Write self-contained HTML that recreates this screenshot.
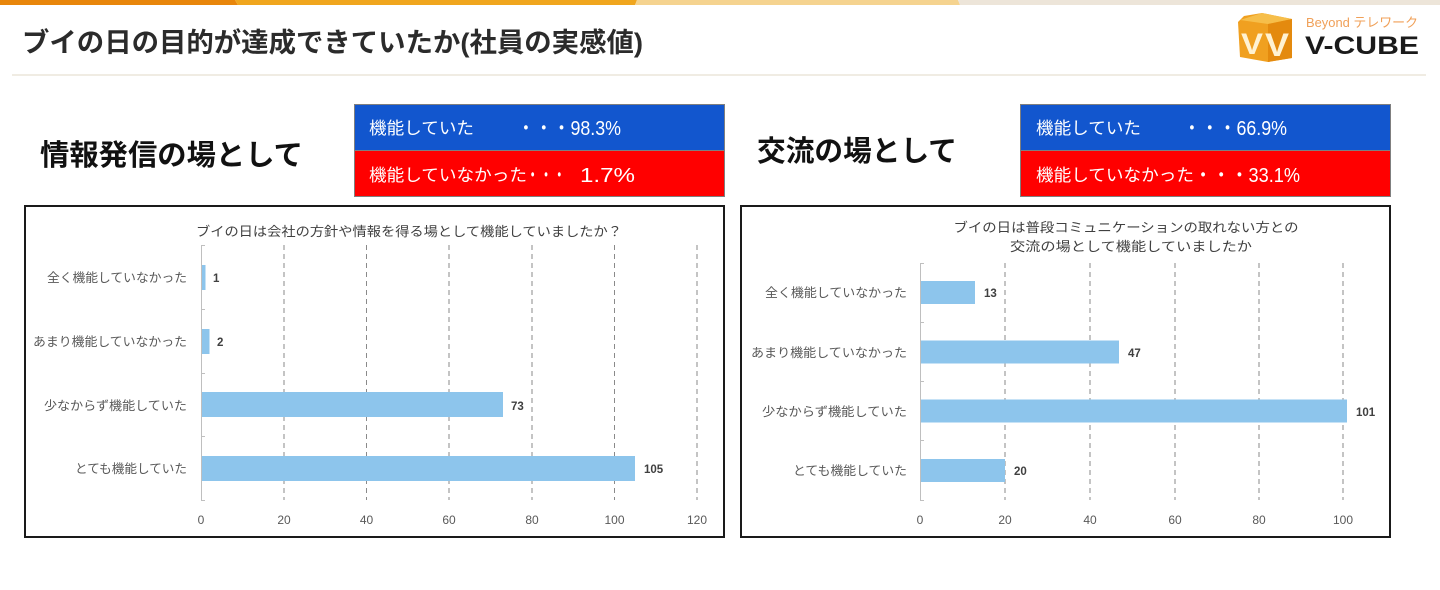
<!DOCTYPE html>
<html><head><meta charset="utf-8">
<style>
html,body{margin:0;padding:0;background:#fff;}
svg{display:block;}
text{font-family:"Liberation Sans","Noto Sans CJK JP",sans-serif;}
</style></head>
<body>
<svg width="1440" height="590" viewBox="0 0 1440 590" xmlns="http://www.w3.org/2000/svg">
<!-- top strip -->
<polygon points="0,0 235,0 238,5 0,5" fill="#E8860B"/>
<polygon points="235,0 637,0 635,5 238,5" fill="#F0A61E"/>
<polygon points="637,0 958,0 960,5 635,5" fill="#F5D38F"/>
<polygon points="958,0 1440,0 1440,5 960,5" fill="#EDE5D9"/>

<!-- title -->
<text x="22" y="52" font-size="27" font-weight="bold" fill="#2b2b2b" textLength="621" lengthAdjust="spacingAndGlyphs">ブイの日の目的が達成できていたか(社員の実感値)</text>
<line x1="12" y1="75" x2="1426" y2="75" stroke="#ECE6DA" stroke-width="1.5"/>

<!-- logo -->
<polygon points="1244,16 1262,13 1292,19 1292,58 1268,62 1240,57 1238,22" fill="#F0A020"/>
<polygon points="1262,13 1292,19 1268,24 1240,20" fill="#F6BE4A"/>
<polygon points="1268,24 1292,19 1292,58 1268,62" fill="#E48A0E"/>
<text x="1241" y="54" font-size="30" fill="#FFF2D2" font-weight="bold" textLength="22" lengthAdjust="spacingAndGlyphs">V</text>
<text x="1265" y="56" font-size="32" fill="#FFF2D2" font-weight="bold" textLength="24" lengthAdjust="spacingAndGlyphs">V</text>
<text x="1306" y="27" font-size="13" fill="#F0A058" textLength="112" lengthAdjust="spacingAndGlyphs">Beyond テレワーク</text>
<text x="1305" y="54" font-size="25" font-weight="bold" fill="#1a1a1a" textLength="114" lengthAdjust="spacingAndGlyphs">V-CUBE</text>

<!-- left heading -->
<text x="40" y="165" font-size="29" font-weight="bold" fill="#111" textLength="263" lengthAdjust="spacingAndGlyphs">情報発信の場として</text>
<!-- left summary box -->
<rect x="354.5" y="104.5" width="370" height="46" fill="#1256CE" stroke="#7f7f7f" stroke-width="1"/>
<rect x="354.5" y="150.5" width="370" height="46" fill="#FF0000" stroke="#7f7f7f" stroke-width="1"/>
<text x="369" y="134" font-size="17" fill="#fff" textLength="105" lengthAdjust="spacingAndGlyphs">機能していた</text>
<text x="517" y="135" font-size="20" fill="#fff" textLength="104" lengthAdjust="spacingAndGlyphs">・・・98.3%</text>
<text x="369" y="181" font-size="17" fill="#fff" textLength="158" lengthAdjust="spacingAndGlyphs">機能していなかった</text>
<text x="526" y="182" font-size="20" fill="#fff" textLength="40" lengthAdjust="spacingAndGlyphs">・・・</text>
<text x="580" y="182" font-size="20" fill="#fff" textLength="55" lengthAdjust="spacingAndGlyphs">1.7%</text>

<!-- right heading -->
<text x="757" y="161" font-size="29" font-weight="bold" fill="#111" textLength="200" lengthAdjust="spacingAndGlyphs">交流の場として</text>
<rect x="1020.5" y="104.5" width="370" height="46" fill="#1256CE" stroke="#7f7f7f" stroke-width="1"/>
<rect x="1020.5" y="150.5" width="370" height="46" fill="#FF0000" stroke="#7f7f7f" stroke-width="1"/>
<text x="1036" y="134" font-size="17" fill="#fff" textLength="105" lengthAdjust="spacingAndGlyphs">機能していた</text>
<text x="1183" y="135" font-size="20" fill="#fff" textLength="104" lengthAdjust="spacingAndGlyphs">・・・66.9%</text>
<text x="1036" y="181" font-size="17" fill="#fff" textLength="158" lengthAdjust="spacingAndGlyphs">機能していなかった</text>
<text x="1194" y="182" font-size="20" fill="#fff" textLength="106" lengthAdjust="spacingAndGlyphs">・・・33.1%</text>

<!-- LEFT CHART -->
<rect x="25" y="206" width="699" height="331" fill="#fff" stroke="#1a1a1a" stroke-width="2"/>
<text x="196" y="236" font-size="13" fill="#404040" textLength="426" lengthAdjust="spacingAndGlyphs">ブイの日は会社の方針や情報を得る場として機能していましたか？</text>
<g stroke="#8a8a8a" stroke-width="1" stroke-dasharray="5,4">
<line x1="284" y1="245" x2="284" y2="500"/>
<line x1="366.5" y1="245" x2="366.5" y2="500"/>
<line x1="449" y1="245" x2="449" y2="500"/>
<line x1="532" y1="245" x2="532" y2="500"/>
<line x1="614.5" y1="245" x2="614.5" y2="500"/>
<line x1="697" y1="245" x2="697" y2="500"/>
</g>
<g fill="#8DC5EC">
<rect x="201" y="265" width="4.5" height="25"/>
<rect x="201" y="329" width="8.5" height="25"/>
<rect x="201" y="392" width="302" height="25"/>
<rect x="201" y="456" width="434" height="25"/>
</g>
<g stroke="#bfbfbf" stroke-width="1">
<line x1="201.5" y1="245" x2="201.5" y2="500"/>
<line x1="201" y1="245.5" x2="205" y2="245.5"/>
<line x1="201" y1="309.5" x2="205" y2="309.5"/>
<line x1="201" y1="373.5" x2="205" y2="373.5"/>
<line x1="201" y1="436.5" x2="205" y2="436.5"/>
<line x1="201" y1="500.5" x2="205" y2="500.5"/>
</g>
<g font-size="12.5" fill="#595959" text-anchor="end">
<text x="187" y="282" textLength="140" lengthAdjust="spacingAndGlyphs">全く機能していなかった</text>
<text x="187" y="346" textLength="154" lengthAdjust="spacingAndGlyphs">あまり機能していなかった</text>
<text x="187" y="410" textLength="143" lengthAdjust="spacingAndGlyphs">少なからず機能していた</text>
<text x="187" y="473" textLength="112" lengthAdjust="spacingAndGlyphs">とても機能していた</text>
</g>
<g font-size="11.5" fill="#404040" font-weight="bold">
<text x="213" y="282">1</text>
<text x="217" y="346">2</text>
<text x="511" y="410">73</text>
<text x="644" y="473">105</text>
</g>
<g font-size="12" fill="#595959" text-anchor="middle">
<text x="201" y="524">0</text>
<text x="284" y="524">20</text>
<text x="366.5" y="524">40</text>
<text x="449" y="524">60</text>
<text x="532" y="524">80</text>
<text x="614.5" y="524">100</text>
<text x="697" y="524">120</text>
</g>

<!-- RIGHT CHART -->
<rect x="741" y="206" width="649" height="331" fill="#fff" stroke="#1a1a1a" stroke-width="2"/>
<text x="1126" y="232" font-size="13" fill="#404040" text-anchor="middle" textLength="345" lengthAdjust="spacingAndGlyphs">ブイの日は普段コミュニケーションの取れない方との</text>
<text x="1131" y="251" font-size="13" fill="#404040" text-anchor="middle" textLength="242" lengthAdjust="spacingAndGlyphs">交流の場として機能していましたか</text>
<g stroke="#8a8a8a" stroke-width="1" stroke-dasharray="5,4">
<line x1="1005" y1="263" x2="1005" y2="500"/>
<line x1="1090" y1="263" x2="1090" y2="500"/>
<line x1="1175" y1="263" x2="1175" y2="500"/>
<line x1="1259" y1="263" x2="1259" y2="500"/>
<line x1="1343" y1="263" x2="1343" y2="500"/>
</g>
<g fill="#8DC5EC">
<rect x="920" y="281" width="55" height="23"/>
<rect x="920" y="340.5" width="199" height="23"/>
<rect x="920" y="399.5" width="427" height="23"/>
<rect x="920" y="459" width="85" height="23"/>
</g>
<g stroke="#bfbfbf" stroke-width="1">
<line x1="920.5" y1="263" x2="920.5" y2="500"/>
<line x1="920" y1="263.5" x2="924" y2="263.5"/>
<line x1="920" y1="322.5" x2="924" y2="322.5"/>
<line x1="920" y1="381.5" x2="924" y2="381.5"/>
<line x1="920" y1="440.5" x2="924" y2="440.5"/>
<line x1="920" y1="500.5" x2="924" y2="500.5"/>
</g>
<g font-size="12.5" fill="#595959" text-anchor="end">
<text x="907" y="297" textLength="142" lengthAdjust="spacingAndGlyphs">全く機能していなかった</text>
<text x="907" y="357" textLength="156" lengthAdjust="spacingAndGlyphs">あまり機能していなかった</text>
<text x="907" y="416" textLength="145" lengthAdjust="spacingAndGlyphs">少なからず機能していた</text>
<text x="907" y="475" textLength="114" lengthAdjust="spacingAndGlyphs">とても機能していた</text>
</g>
<g font-size="11.5" fill="#404040" font-weight="bold">
<text x="984" y="297">13</text>
<text x="1128" y="357">47</text>
<text x="1356" y="416">101</text>
<text x="1014" y="475">20</text>
</g>
<g font-size="12" fill="#595959" text-anchor="middle">
<text x="920" y="524">0</text>
<text x="1005" y="524">20</text>
<text x="1090" y="524">40</text>
<text x="1175" y="524">60</text>
<text x="1259" y="524">80</text>
<text x="1343" y="524">100</text>
</g>
</svg>
</body></html>
